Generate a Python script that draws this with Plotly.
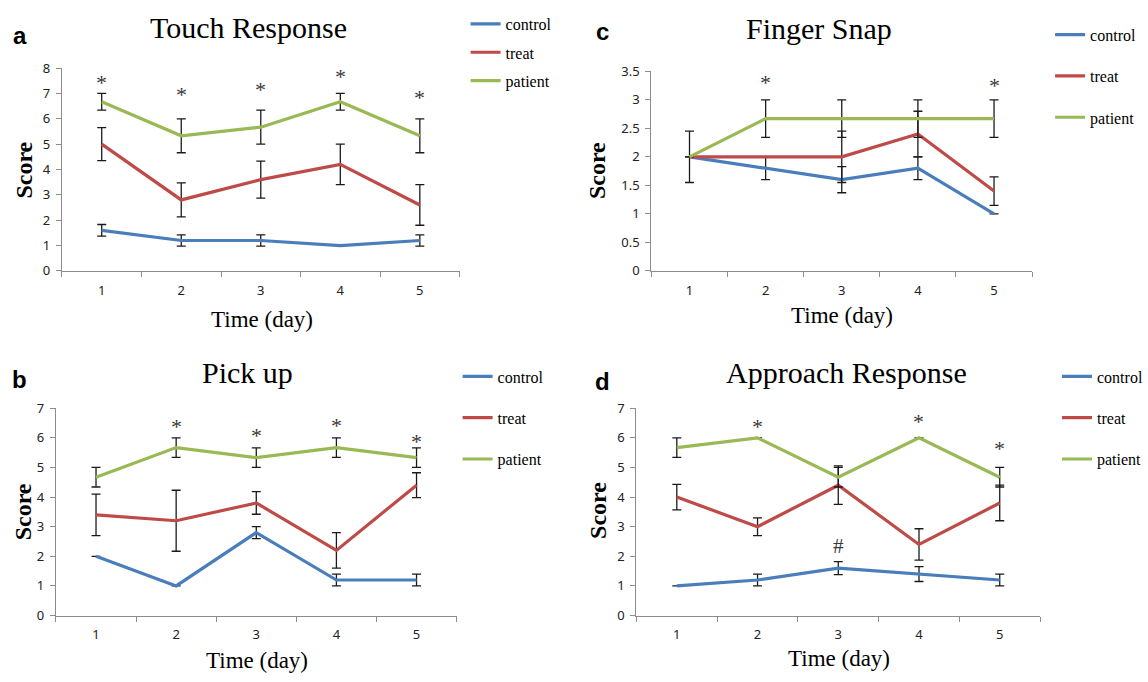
import plotly.graph_objects as go

# ---------------- data ----------------
days = [1, 2, 3, 4, 5]
series_names = ["control", "treat", "patient"]

# a: Touch Response
touch_control = [1.6, 1.2, 1.2, 1.0, 1.2]
touch_control_err = [0.23, 0.22, 0.22, None, 0.22]
touch_treat = [5.0, 2.8, 3.6, 4.2, 2.6]
touch_treat_err = [0.65, 0.67, 0.73, 0.8, 0.8]
touch_patient = [6.67, 5.33, 5.67, 6.67, 5.33]
touch_patient_err = [0.33, 0.67, 0.67, 0.33, 0.67]
touch_star_days = [1, 2, 3, 4, 5]
touch_star_y = [7.45, 6.96, 7.17, 7.68, 6.84]

# c: Finger Snap
snap_control = [2.0, 1.8, 1.6, 1.8, 1.0]
snap_control_err = [None, 0.2, 0.23, 0.2, None]
snap_treat = [2.0, 2.0, 2.0, 2.4, 1.4]
snap_treat_err = [0.45, None, 0.45, 0.4, 0.25]
snap_patient = [2.0, 2.67, 2.67, 2.67, 2.67]
snap_patient_err = [None, 0.33, 0.33, 0.33, 0.33]
snap_star_days = [2, 5]
snap_star_y = [3.30, 3.26]

# b: Pick up
pick_control = [2.0, 1.0, 2.8, 1.2, 1.2]
pick_control_err = [None, None, 0.2, 0.2, 0.2]
pick_treat = [3.4, 3.2, 3.8, 2.2, 4.4]
pick_treat_err = [0.7, 1.03, 0.38, 0.6, 0.42]
pick_patient = [4.67, 5.67, 5.33, 5.67, 5.33]
pick_patient_err = [0.33, 0.33, 0.33, 0.33, 0.33]
pick_star_days = [2, 3, 4, 5]
pick_star_y = [6.37, 6.07, 6.40, 5.89]

# d: Approach Response
appr_control = [1.0, 1.2, 1.6, 1.4, 1.2]
appr_control_err = [None, 0.2, 0.22, 0.25, 0.2]
appr_treat = [4.0, 3.0, 4.4, 2.4, 3.8]
appr_treat_err = [0.43, 0.3, 0.65, 0.53, 0.6]
appr_patient = [5.67, 6.0, 4.67, 6.0, 4.67]
appr_patient_err = [0.33, None, 0.33, None, 0.33]
appr_star_days = [2, 4, 5]
appr_star_y = [6.37, 6.55, 5.64]
appr_hash_days = [3]
appr_hash_y = [2.36]

y_max = [8, 3.5, 7, 7]
y_dtick = [1, 0.5, 1, 1]

# ---------------- styling ----------------
W, H = 1148, 682
colors = {"control": "#4A7EBB", "treat": "#BE4B48", "patient": "#98B954"}
serif = "Liberation Serif, Times New Roman, serif"
sans = "Noto Sans, Open Sans, Arial, sans-serif"
axis_grey = "#8C8C8C"


def px_x(x):
    return x / W


def px_y(y):
    return 1 - y / H


panels = [
    dict(key="", letter="a", title="Touch Response",
         data=[(touch_control, touch_control_err), (touch_treat, touch_treat_err), (touch_patient, touch_patient_err)],
         stars=(touch_star_days, touch_star_y), marks=None,
         xdom=(62, 460), ydom=(269, 60.7),
         title_xy=(249, 19), letter_xy=(20, 27), score_xy=(24, 165), time_xy=(262, 319),
         legend_xy=(466, -2), gap=4.5),
    dict(key="2", letter="c", title="Finger Snap",
         data=[(snap_control, snap_control_err), (snap_treat, snap_treat_err), (snap_patient, snap_patient_err)],
         stars=(snap_star_days, snap_star_y), marks=None,
         xdom=(652, 1033), ydom=(269, 64),
         title_xy=(820, 20), letter_xy=(603, 23), score_xy=(597, 166), time_xy=(843, 315),
         legend_xy=(1051, 9), gap=17.5),
    dict(key="3", letter="b", title="Pick up",
         data=[(pick_control, pick_control_err), (pick_treat, pick_treat_err), (pick_patient, pick_patient_err)],
         stars=(pick_star_days, pick_star_y), marks=None,
         xdom=(56, 457), ydom=(623, 410),
         title_xy=(248, 373), letter_xy=(20, 381), score_xy=(23, 516), time_xy=(257, 669),
         legend_xy=(458, 360), gap=17.5),
    dict(key="4", letter="d", title="Approach Response",
         data=[(appr_control, appr_control_err), (appr_treat, appr_treat_err), (appr_patient, appr_patient_err)],
         stars=(appr_star_days, appr_star_y), marks=(appr_hash_days, appr_hash_y),
         xdom=(637, 1041), ydom=(623, 410),
         title_xy=(847, 373), letter_xy=(603, 383), score_xy=(599, 515), time_xy=(840, 667),
         legend_xy=(1058, 360), gap=17.5),
]

fig = go.Figure()
annotations = []
layout = dict(
    width=W, height=H,
    margin=dict(l=0, r=0, t=0, b=0),
    paper_bgcolor="white", plot_bgcolor="white",
    showlegend=True,
)

for i, p in enumerate(panels):
    k = p["key"]
    xa = "x" + k
    ya = "y" + k
    legend_name = "legend" + k
    for name, (vals, errs) in zip(series_names, p["data"]):
        fig.add_trace(go.Scatter(
            x=days, y=vals, mode="lines", name=name,
            xaxis=xa, yaxis=ya,
            line=dict(color=colors[name], width=3.2),
            error_y=dict(type="data", array=errs, visible=True, color="#1a1a1a",
                         thickness=1.3, width=4.5),
            legend=legend_name, legendgroup=p["letter"] + name,
            hoverinfo="skip",
        ))
    x0, x1 = p["xdom"]
    yb, yt = p["ydom"]
    layout["xaxis" + k] = dict(
        domain=[px_x(x0), px_x(x1)], anchor=ya, range=[0.5, 5.5],
        tickvals=days, ticktext=[str(d) for d in days], ticks="",
        showline=True, linecolor=axis_grey, linewidth=1.3,
        showgrid=False, zeroline=False,
        tickfont=dict(family=sans, size=13, color="#222"),
        ticklabelstandoff=7,
        minor=dict(tickvals=[0.5, 1.5, 2.5, 3.5, 4.5, 5.5], ticks="outside",
                   ticklen=5, tickcolor=axis_grey, tickwidth=1.2, showgrid=False),
    )
    layout["yaxis" + k] = dict(
        domain=[px_y(yb), px_y(yt)], anchor=xa, range=[0, y_max[i]],
        dtick=y_dtick[i], tick0=0, ticks="outside", ticklen=5,
        tickcolor=axis_grey, tickwidth=1.2,
        showline=True, linecolor=axis_grey, linewidth=1.3,
        showgrid=False, zeroline=False,
        tickfont=dict(family=sans, size=13, color="#222"),
        ticklabelstandoff=3,
    )
    lx, ly = p["legend_xy"]
    layout[legend_name] = dict(
        x=px_x(lx), y=px_y(ly), xanchor="left", yanchor="top",
        bgcolor="rgba(0,0,0,0)", borderwidth=0,
        font=dict(family=serif, size=16, color="black"),
        itemwidth=30, tracegroupgap=p["gap"], traceorder="grouped",
    )
    # titles & labels
    tx, ty = p["title_xy"]
    annotations.append(dict(text=p["title"], x=px_x(tx), y=px_y(ty), xref="paper", yref="paper",
                            showarrow=False, xanchor="center", yanchor="middle",
                            font=dict(family=serif, size=30, color="black")))
    lx2, ly2 = p["letter_xy"]
    annotations.append(dict(text="<b>" + p["letter"] + "</b>", x=px_x(lx2), y=px_y(ly2),
                            xref="paper", yref="paper", showarrow=False,
                            xanchor="center", yanchor="middle",
                            font=dict(family="Liberation Sans, Arial, sans-serif", size=24, color="black")))
    sx, sy = p["score_xy"]
    annotations.append(dict(text="<b>Score</b>", x=px_x(sx), y=px_y(sy), xref="paper", yref="paper",
                            showarrow=False, xanchor="center", yanchor="middle", textangle=-90,
                            font=dict(family=serif, size=24, color="black")))
    tmx, tmy = p["time_xy"]
    annotations.append(dict(text="Time (day)", x=px_x(tmx), y=px_y(tmy), xref="paper", yref="paper",
                            showarrow=False, xanchor="center", yanchor="middle",
                            font=dict(family=serif, size=23, color="black")))
    sd, sv = p["stars"]
    for d, v in zip(sd, sv):
        annotations.append(dict(text="*", x=d, y=v, xref=xa, yref=ya, showarrow=False,
                                xanchor="center", yanchor="middle", yshift=0,
                                font=dict(family=serif, size=22, color="#3a3a3a")))
    if p["marks"] is not None:
        md, mv = p["marks"]
        for d, v in zip(md, mv):
            annotations.append(dict(text="#", x=d, y=v, xref=xa, yref=ya, showarrow=False,
                                    xanchor="center", yanchor="middle",
                                    font=dict(family=serif, size=21, color="#3a3a3a")))

layout["annotations"] = annotations
fig.update_layout(**layout)

fig.write_html("out.html", config={"displayModeBar": False},
               post_script="document.body.style.margin='0';")
